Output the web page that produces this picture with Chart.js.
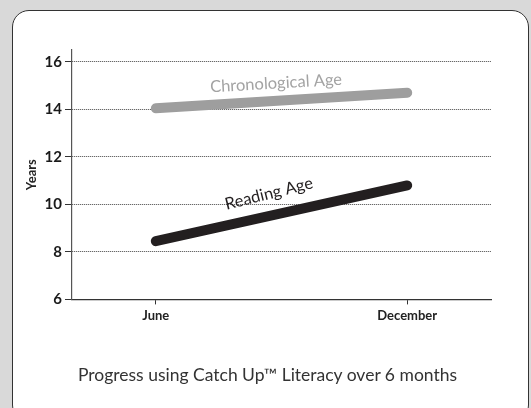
<!DOCTYPE html>
<html>
<head>
<meta charset="utf-8">
<script src="https://cdn.jsdelivr.net/npm/chart.js@4/dist/chart.umd.min.js"></script>
<style>
    html, body { margin: 0; padding: 0; }
    body { width: 531px; height: 408px; background: #d9d9d9; position: relative; overflow: hidden; }
    #panel {
        position: absolute; left: 12px; top: 10px; width: 515px; height: 410px;
        background: #fff; border: 1.5px solid #333; border-radius: 17px;
    }
    #chart { position: absolute; left: 0; top: 0; }
    #caption {
        position: absolute; left: 0; width: 535px; top: 364px; text-align: center;
        font-family: Lato, sans-serif; font-size: 17.5px; color: #333;
    }
</style>
</head>
<body>
<div id="panel"></div>
<canvas id="chart" width="531" height="408"></canvas>
<div id="caption">Progress using Catch Up™ Literacy over 6 months</div>
<script>
// months after June
const months = [0, 6];
const monthLabels = ['June', 'December'];
const chronologicalAge = [14.05, 14.7];
const readingAge = [8.45, 10.8];
const yTicks = [6, 8, 10, 12, 14, 16];

// in-chart labels, anchored in data units
const lineLabels = [
    { text: 'Chronological Age', x: 2.87, y: 15.1, angle: -3.3, color: '#a3a3a3' },
    { text: 'Reading Age', x: 2.7, y: 10.45, angle: -14, color: '#231f20' }
];

const lineLabelPlugin = {
    id: 'lineLabels',
    afterDatasetsDraw(chart) {
        const ctx = chart.ctx;
        const xs = chart.scales.x;
        const ys = chart.scales.y;
        lineLabels.forEach(l => {
            ctx.save();
            ctx.translate(xs.getPixelForValue(l.x), ys.getPixelForValue(l.y));
            ctx.rotate(l.angle * Math.PI / 180);
            ctx.font = '16.5px Lato, sans-serif';
            ctx.fillStyle = l.color;
            ctx.textAlign = 'center';
            ctx.textBaseline = 'middle';
            ctx.fillText(l.text, 0, 0);
            ctx.restore();
        });
    }
};

const toPoints = values => values.map((v, i) => ({ x: months[i], y: v }));

new Chart(document.getElementById('chart').getContext('2d'), {
    type: 'line',
    data: {
        datasets: [{
            label: 'Chronological Age',
            data: toPoints(chronologicalAge),
            borderColor: '#9e9e9e',
            borderWidth: 10,
            borderCapStyle: 'round',
            pointRadius: 0
        }, {
            label: 'Reading Age',
            data: toPoints(readingAge),
            borderColor: '#231f20',
            borderWidth: 10,
            borderCapStyle: 'round',
            pointRadius: 0
        }]
    },
    options: {
        responsive: false,
        animation: false,
        layout: { padding: { left: 22, top: 50, right: 40, bottom: 80 } },
        plugins: {
            legend: { display: false },
            tooltip: { enabled: false }
        },
        scales: {
            x: {
                type: 'linear',
                min: -2,
                max: 8,
                afterBuildTicks: axis => { axis.ticks = months.map(v => ({ value: v })); },
                ticks: {
                    callback: (v) => monthLabels[months.indexOf(v)],
                    font: { family: 'Lato', size: 13, weight: 'bold' },
                    color: '#222',
                    padding: 4,
                    maxRotation: 0
                },
                grid: {
                    drawOnChartArea: false,
                    drawTicks: true,
                    tickLength: 5,
                    tickColor: '#333'
                },
                border: { color: '#333', width: 1.2 }
            },
            y: {
                min: 6,
                max: 16.5,
                afterBuildTicks: axis => { axis.ticks = yTicks.map(v => ({ value: v })); },
                ticks: {
                    font: { family: 'Lato', size: 15, weight: 'bold' },
                    color: '#1a1a1a',
                    padding: 3
                },
                grid: {
                    color: '#444',
                    lineWidth: 1,
                    tickBorderDash: [],
                    tickLength: 7,
                    tickColor: '#333'
                },
                border: { color: '#555', width: 1.2, dash: [1, 1] },
                title: {
                    display: true,
                    text: 'Years',
                    font: { family: 'Lato', size: 13, weight: 'bold' },
                    color: '#222',
                    padding: 2
                }
            }
        }
    },
    plugins: [lineLabelPlugin]
});
</script>
</body>
</html>
